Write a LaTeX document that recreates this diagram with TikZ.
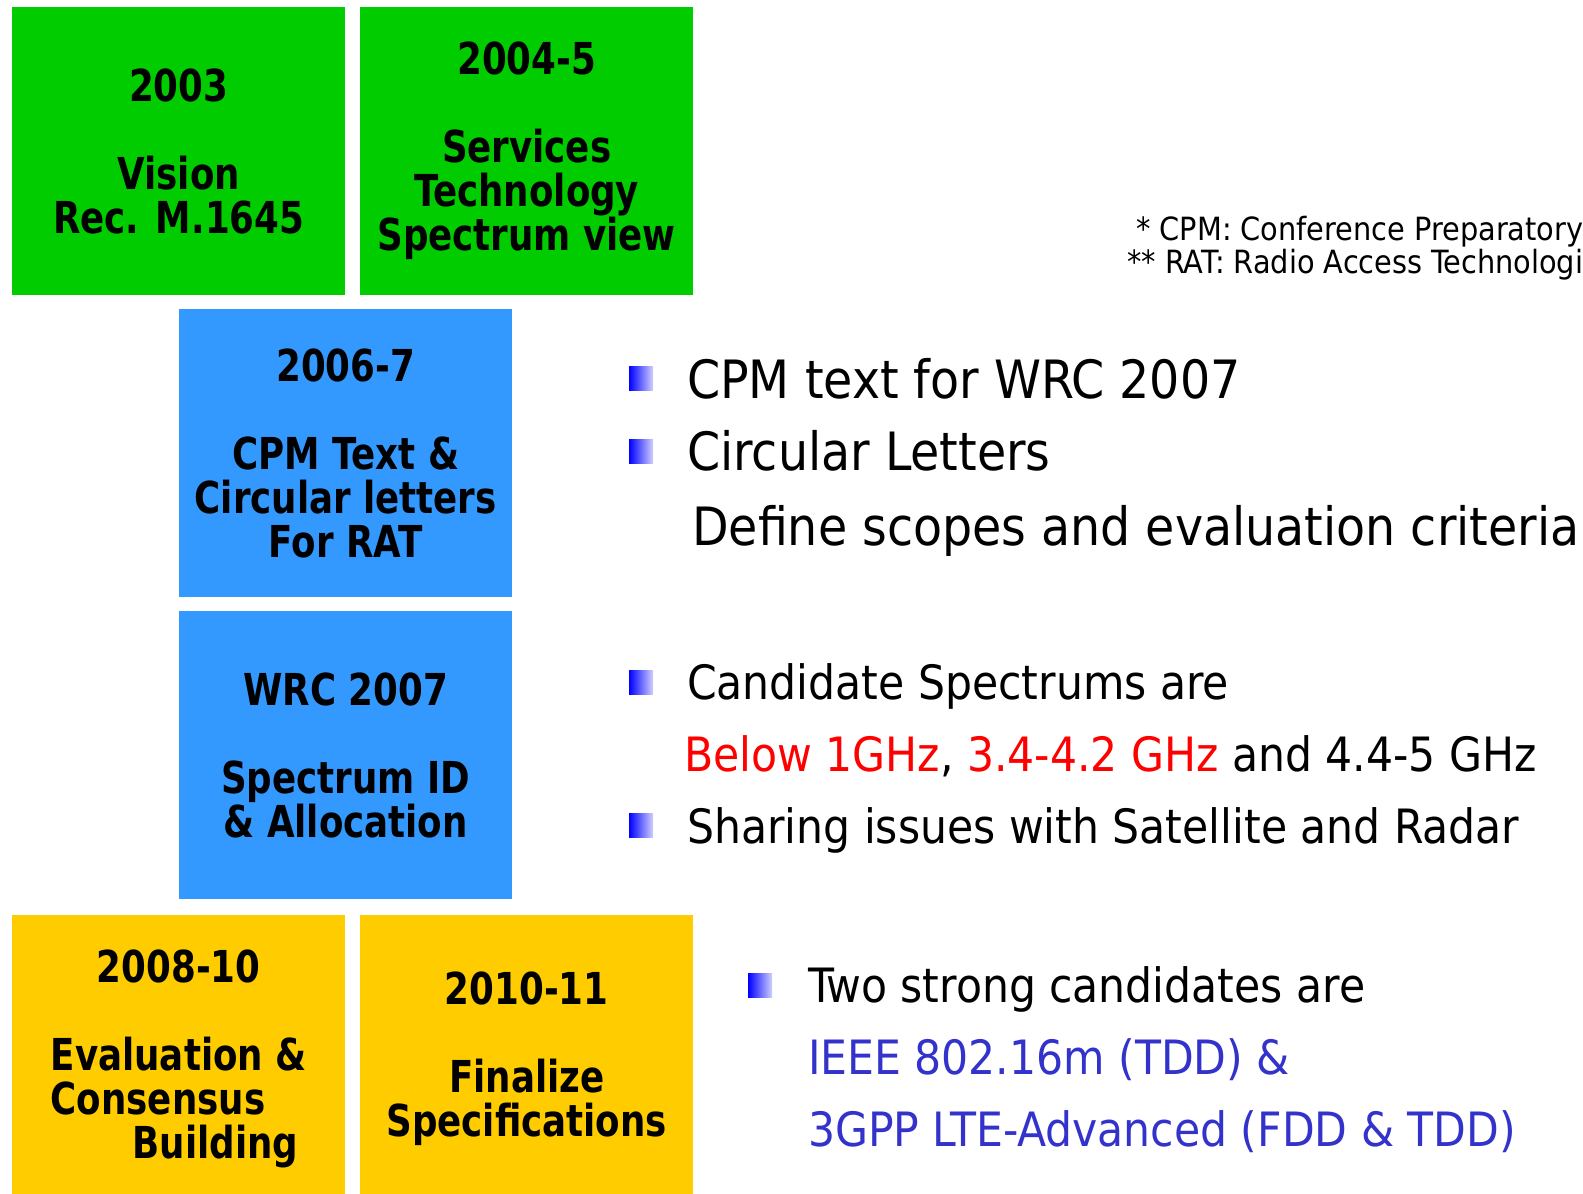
\documentclass[tikz,border=0pt]{standalone}
\usepackage{fontspec}
\setmainfont{DejaVu Sans Condensed}
\newfontfamily\phasefont[FakeStretch=0.9]{DejaVu Sans Condensed}
\definecolor{boxgreen}{HTML}{00CC00}
\definecolor{boxblue}{HTML}{3399FF}
\definecolor{boxyellow}{HTML}{FFCC00}
\definecolor{hotred}{HTML}{FF0000}
\definecolor{techblue}{HTML}{3333CC}
\definecolor{bulletdark}{HTML}{0000FF}
\definecolor{bulletlight}{HTML}{D0D0FF}
\tikzset{
  phase/.style={anchor=north west, minimum width=333pt, minimum height=288pt,
    inner sep=0pt, align=center, font=\phasefont\fontsize{44}{44}\selectfont\bfseries},
  greenphase/.style={phase, fill=boxgreen},
  bluephase/.style={phase, fill=boxblue},
  yellowphase/.style={phase, fill=boxyellow},
  bulletsq/.style={minimum size=24pt, inner sep=0pt,
    left color=bulletdark, right color=bulletlight},
  point/.style={anchor=west, inner sep=0pt, text height=35pt, text depth=0pt,
    font=\fontsize{47.3}{47.3}\selectfont},
  bigpoint/.style={point, text height=38pt, font=\fontsize{52.8}{52.8}\selectfont},
  note/.style={anchor=west, inner sep=0pt, text height=23pt, text depth=0pt,
    font=\fontsize{32}{32}\selectfont}
}
\begin{document}
\begin{tikzpicture}[x=1pt, y=-1pt]
  \useasboundingbox (0,0) rectangle (1583,1194);
  \clip (0,0) rectangle (1583,1194);

  % milestone boxes
  \node[greenphase] (vision) at (12,7) {2003\\[44pt]Vision\\Rec. M.1645};
  \node[greenphase] (services) at (360,7) {2004-5\\[44pt]Services\\Technology\\Spectrum view};
  \node[bluephase] (cpm) at (179,309) {2006-7\\[44pt]CPM Text \&\\Circular letters\\For RAT};
  \node[bluephase] (wrc) at (179,611) {WRC 2007\\[44pt]Spectrum ID\\\& Allocation};
  \node[yellowphase] (evaluation) at (12,915) {2008-10\\[44pt]Evaluation \&\\
    \makebox[256pt][l]{Consensus}\\\makebox[239pt][r]{Building}};
  \node[yellowphase] (finalize) at (360,915) {2010-11\\[44pt]Finalize\\Specifications};

  % footnotes
  \node[note] (noteCPM) at (1136,229) {* CPM: Conference Preparatory};
  \node[note] (noteRAT) at (1127,262) {** RAT: Radio Access Technologi};

  % 2006-7 points
  \node[bulletsq] (b1) at (641,378) {};
  \node[bigpoint] (p1) at (687,379) {CPM text for WRC 2007};
  \node[bulletsq] (b2) at (641,451) {};
  \node[bigpoint] (p2) at (687,451) {Circular Letters};
  \node[bigpoint] (p3) at (692,526) {Define scopes and evaluation criteria};

  % WRC 2007 points
  \node[bulletsq] (b3) at (641,682) {};
  \node[point] (p4) at (687,682) {Candidate Spectrums are};
  \node[point] (p5) at (684,754) {{\color{hotred}Below 1GHz}, {\color{hotred}3.4-4.2 GHz} and 4.4-5 GHz};
  \node[bulletsq] (b4) at (641,825) {};
  \node[point] (p6) at (687,826) {Sharing issues with Satellite and Radar};

  % candidate technologies
  \node[bulletsq] (b5) at (760,985) {};
  \node[point] (p7) at (808,985) {Two strong candidates are};
  \node[point, text=techblue] (p8) at (808,1057) {IEEE 802.16m (TDD) \&};
  \node[point, text=techblue] (p9) at (808,1129) {3GPP LTE-Advanced (FDD \& TDD)};
\end{tikzpicture}
\end{document}
